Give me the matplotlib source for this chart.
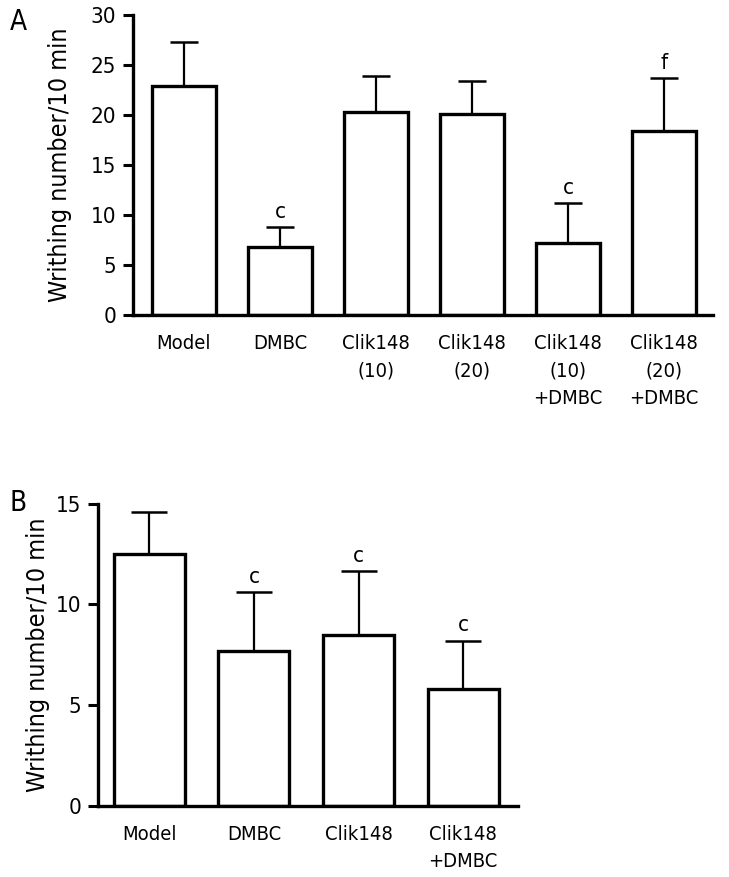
import numpy as np
import matplotlib
matplotlib.use("Agg")
import matplotlib.pyplot as plt

# Panel A data
a_labels = ["Model", "DMBC", "Clik148\n(10)", "Clik148\n(20)",
            "Clik148\n(10)\n+DMBC", "Clik148\n(20)\n+DMBC"]
a_means = [22.9, 6.8, 20.3, 20.1, 7.2, 18.4]
a_errs = [4.4, 2.0, 3.6, 3.3, 4.0, 5.3]
a_marks = ["", "c", "", "", "c", "f"]

# Panel B data
b_labels = ["Model", "DMBC", "Clik148", "Clik148\n+DMBC"]
b_means = [12.5, 7.7, 8.5, 5.8]
b_errs = [2.1, 2.9, 3.15, 2.4]
b_marks = ["", "c", "c", "c"]

plt.rcParams["font.family"] = ["DejaVu Sans"]
plt.rcParams["font.stretch"] = "condensed"

fig = plt.figure(figsize=(7.29, 8.77), dpi=100)


def panel(ax, labels, means, errs, marks, ymax, yticks, capsize, width, xlim):
    x = np.arange(len(labels))
    ax.bar(x, means, width=width, color="white", edgecolor="black",
           linewidth=2.4, zorder=2)
    ax.errorbar(x, means, yerr=[np.zeros(len(errs)), errs], fmt="none",
                ecolor="black", elinewidth=1.6, capsize=capsize,
                capthick=1.8, zorder=1)
    for xi, m, e, t in zip(x, means, errs, marks):
        if t:
            ax.text(xi, m + e + ymax * 0.018, t, ha="center", va="bottom",
                    fontsize=16)
    ax.set_xlim(*xlim)
    ax.set_ylim(0, ymax)
    ax.set_yticks(yticks)
    ax.set_xticks(x)
    ax.set_xticklabels(labels, fontsize=14.5, linespacing=1.55)
    ax.tick_params(axis="x", length=0, pad=14)
    ax.tick_params(axis="y", length=7, width=2.2, labelsize=16, pad=5)
    for s in ["top", "right"]:
        ax.spines[s].set_visible(False)
    for s in ["left", "bottom"]:
        ax.spines[s].set_linewidth(2.4)


ax1 = fig.add_axes([0.1824, 0.6408, 0.7956, 0.342])
panel(ax1, a_labels, a_means, a_errs, a_marks, 30, [0, 5, 10, 15, 20, 25, 30],
      capsize=10, width=0.66, xlim=(-0.53, 5.51))
ax1.set_ylabel("Writhing number/10 min", fontsize=18)
ax1.yaxis.set_label_coords(-0.105, 0.5)

ax2 = fig.add_axes([0.1344, 0.0813, 0.5756, 0.3444])
panel(ax2, b_labels, b_means, b_errs, b_marks, 15, [0, 5, 10, 15],
      capsize=13, width=0.68, xlim=(-0.49, 3.52))
ax2.set_ylabel("Writhing number/10 min", fontsize=18)
ax2.yaxis.set_label_coords(-0.114, 0.5)

fig.text(18 / 729, 1 - 22 / 877, "A", fontsize=20, ha="center", va="center")
fig.text(18 / 729, 1 - 503 / 877, "B", fontsize=20, ha="center", va="center")

fig.savefig("out.png", dpi=100)
